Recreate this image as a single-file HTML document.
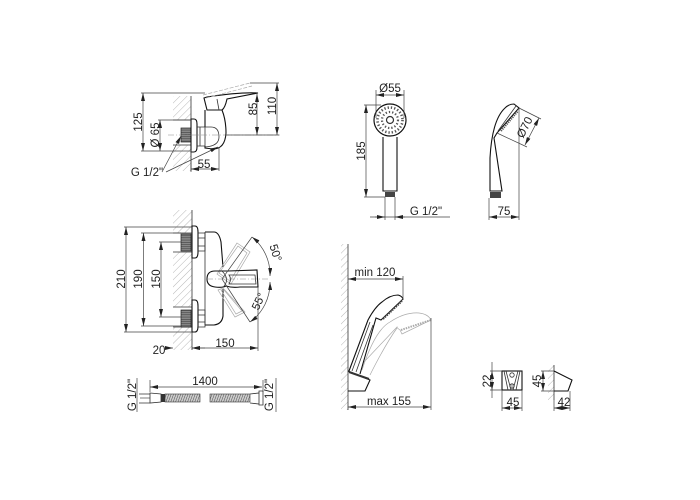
<!DOCTYPE html>
<html><head><meta charset="utf-8"><style>
html,body{margin:0;padding:0;background:#fff;width:700px;height:500px;overflow:hidden}
svg{display:block}
text{font-family:"Liberation Sans",sans-serif;font-size:11.5px;fill:#222;text-anchor:middle}
.d{stroke:#444;stroke-width:.7;fill:none}
.o{stroke:#333;stroke-width:.8;fill:none}
.t{stroke:#111;stroke-width:1.1;fill:none}
.g{stroke:#aaa;stroke-width:.7;fill:none}
.c{stroke:#888;stroke-width:.5;fill:none;stroke-dasharray:6 2 1 2}
</style></head><body>
<svg width="700" height="500" viewBox="0 0 700 500" xmlns="http://www.w3.org/2000/svg">
<defs>
<marker id="a" viewBox="0 0 8 4" refX="8" refY="2" markerWidth="8" markerHeight="4" orient="auto-start-reverse" markerUnits="userSpaceOnUse"><path d="M0 0L8 2L0 4z" fill="#222"/></marker>
<pattern id="hp" width="5" height="5" patternUnits="userSpaceOnUse" patternTransform="rotate(45)"><line x1="0" y1="0" x2="0" y2="5" stroke="#888" stroke-width=".6"/></pattern>
<pattern id="hose" width="2.400" height="8" patternUnits="userSpaceOnUse" patternTransform="skewX(-20)"><rect width="2.400" height="8" fill="#ccc"/><line x1="0" y1="0" x2="0" y2="8" stroke="#444" stroke-width="1"/></pattern>
<pattern id="thr" width="10" height="2.200" patternUnits="userSpaceOnUse"><rect width="10" height="2.200" fill="#888"/><line x1="0" y1="0" x2="10" y2="0" stroke="#333" stroke-width="1"/></pattern>
</defs>

<!-- TOP LEFT: mixer side view -->
<rect x="173" y="96" width="18" height="24" fill="url(#hp)"/>
<rect x="173" y="145" width="18" height="26" fill="url(#hp)"/>
<path class="o" d="M191 96V171"/>
<path class="o" d="M173 120H191M173 145H191"/>
<rect x="181" y="128" width="10" height="14" fill="url(#thr)" stroke="#222" stroke-width=".7"/>
<path class="t" d="M191 119H194Q197 119 197 124V147Q197 152 194 152H191Z" fill="#fff"/>
<path class="o" d="M197 127H205V146H197M200 127V146"/>
<path class="t" d="M205 110V127M205 146V148L213 149Q225 149 226 133Q226 120 222 110"/>
<path class="o" d="M205 127H211Q219 127 219 137Q219 146 205 147"/>
<path class="t" d="M204 98L207 110H222Q225 108 227 99L258 93Q240 92 207 97Z" fill="#fff"/>
<path class="o" d="M217 99L219 110"/>
<path class="g" stroke-dasharray="4 1.500" d="M203 95L250 83M206 98L252 86"/>
<path class="c" d="M168 135H280"/>

<!-- dims top left -->
<path class="d" d="M141 93H205M250 83H279M141 151H182M257 135H279M225 135H257M158 120H191M158 151H191M219 148V171M191 150V172"/>
<path class="d" marker-start="url(#a)" marker-end="url(#a)" d="M143 93V151"/>
<path class="d" marker-start="url(#a)" marker-end="url(#a)" d="M160 120V151"/>
<path class="d" marker-start="url(#a)" marker-end="url(#a)" d="M257 94V135"/>
<path class="d" marker-start="url(#a)" marker-end="url(#a)" d="M277 83V135"/>
<path class="d" marker-start="url(#a)" marker-end="url(#a)" d="M191 169H219"/>
<path class="d" marker-end="url(#a)" d="M162 172L181 136"/>
<path class="d" marker-end="url(#a)" d="M166 172L218 147"/>
<text x="204" y="168">55</text>
<text x="147" y="176">G 1/2"</text>
<text transform="translate(142,122) rotate(-90)">125</text>
<text transform="translate(159,135) rotate(-90)">Ø 65</text>
<text transform="translate(257,109) rotate(-90)">85</text>
<text transform="translate(276,106) rotate(-90)">110</text>

<!-- MIDDLE LEFT: mixer front -->
<rect x="173" y="210" width="19" height="23" fill="url(#hp)"/>
<rect x="173" y="252" width="19" height="55" fill="url(#hp)"/>
<rect x="173" y="327" width="19" height="23" fill="url(#hp)"/>
<path class="o" d="M192 210V350M173 233H192M173 252H192M173 307H192M173 327H192"/>
<rect x="181" y="234" width="10" height="17" fill="url(#thr)" stroke="#222" stroke-width=".7"/>
<rect x="181" y="310" width="10" height="17" fill="url(#thr)" stroke="#222" stroke-width=".7"/>
<path class="t" d="M192 226H195Q198 226 198 232V252Q198 258 195 258H192Z" fill="#fff"/>
<path class="t" d="M192 300H195Q198 300 198 306V326Q198 332 195 332H192Z" fill="#fff"/>
<path class="o" d="M198 233H205V251H198M198 238H205M198 246H205M198 310H205V327H198M198 315H205M198 322H205"/>
<path class="t" d="M205 232H214Q219 232 221 242L223 267M223 289L223 316Q222 324 214 325H205"/>
<path class="o" d="M205 232V325"/>
<g class="g">
<path d="M237 243L250 252L231 284L217 274Z"/><path d="M238 246L247 253L230 281L219 273Z"/>
<path d="M218 290L223 288L245 312L235 317Z"/><path d="M221 290L224 290L242 311L236 314Z"/>
</g>
<path class="t" d="M207 279Q207 271 215 271H228L257 270L258 287H240Q232 288 226 286Q222 288 215 287Q207 286 207 279Z"/>
<path class="o" d="M222 271Q230 279 224 286M229 275H255L256 284H229Q232 279 229 275Z"/>
<path class="c" d="M207 279H268"/>
<!-- angle -->
<path class="d" d="M222 279L252 237M222 279L250 322"/>
<path class="d" marker-start="url(#a)" marker-end="url(#a)" d="M252 237A48 48 0 0 1 270 276"/>
<path class="d" marker-start="url(#a)" marker-end="url(#a)" d="M270 282A48 48 0 0 1 250 322"/>
<text transform="translate(272,254) rotate(72)">50°</text>
<text transform="translate(262,303) rotate(-65)">55°</text>
<!-- dims -->
<path class="d" d="M124 227H192M124 332H192M141 233H181M141 326H181M159 242H181M159 317H181M258 287V351"/>
<path class="d" marker-start="url(#a)" marker-end="url(#a)" d="M126 227V332"/>
<path class="d" marker-start="url(#a)" marker-end="url(#a)" d="M143.500 233V326"/>
<path class="d" marker-start="url(#a)" marker-end="url(#a)" d="M161 242V317"/>
<path class="d" marker-start="url(#a)" marker-end="url(#a)" d="M192 348H258"/>
<path class="d" marker-end="url(#a)" d="M165 348H173"/>
<path class="d" marker-end="url(#a)" d="M205 348H192"/>
<text transform="translate(125,279) rotate(-90)">210</text>
<text transform="translate(142,279) rotate(-90)">190</text>
<text transform="translate(160,279) rotate(-90)">150</text>
<text x="225" y="347">150</text>
<text x="159" y="354">20</text>

<!-- HOSE -->
<path class="d" d="M137 378V412M276 378V412M150 380V392M263 380V392"/>
<path class="d" d="M140 398H150"/>
<path class="o" d="M139 394H150M139 403H150M150 393L161 394V402L150 403ZM250 394L259 393V404L250 403M259 391H263V405H259Z"/>
<rect x="161" y="394" width="4" height="8" fill="#333"/>
<rect x="165" y="394" width="35" height="8" fill="url(#hose)" stroke="#333" stroke-width=".6"/>
<rect x="210" y="394" width="40" height="8" fill="url(#hose)" stroke="#333" stroke-width=".6"/>
<path class="d" marker-start="url(#a)" marker-end="url(#a)" d="M150 387H262"/>
<text x="205" y="385">1400</text>
<text transform="translate(136,395) rotate(-90)">G 1/2"</text>
<text transform="translate(273,395) rotate(-90)">G 1/2"</text>

<!-- HAND SHOWER FRONT -->
<circle cx="390" cy="120" r="16" fill="#fff" stroke="#111" stroke-width="1.200"/>
<circle cx="390" cy="120" r="12.500" fill="none" stroke="#555" stroke-width="2.600" stroke-dasharray="1.300 2"/>
<circle cx="390" cy="120" r="8" fill="none" stroke="#555" stroke-width="2.200" stroke-dasharray="1.300 2"/>
<circle cx="390" cy="120" r="3.500" fill="#fff" stroke="#333" stroke-width="1.200"/>
<path class="t" d="M383 137V191H397V137"/>
<rect x="385" y="192" width="10" height="5" fill="#444"/>
<path class="d" d="M376 90V118M404 90V118M364 105H381M364 197H385M385 197V220M395 197V220M370 217H450"/>
<path class="d" marker-start="url(#a)" marker-end="url(#a)" d="M376 95H404"/>
<path class="d" marker-start="url(#a)" marker-end="url(#a)" d="M366 105V197"/>
<path class="d" marker-end="url(#a)" d="M375 217H385"/>
<path class="d" marker-end="url(#a)" d="M405 217H395"/>
<text x="390" y="92">Ø55</text>
<text transform="translate(365,151) rotate(-90)">185</text>
<text x="426" y="215">G 1/2"</text>

<!-- HAND SHOWER SIDE -->
<path class="t" d="M490 191V158Q492 120 505 108Q509 104 514 104L519 108L497 133L494 138L502 191Z" fill="#fff"/>
<path class="o" d="M498 131L516 106"/>
<path d="M501 131L518 111" stroke="#555" stroke-width="2" stroke-dasharray="1.200 1" fill="none"/>
<rect x="490" y="192" width="11" height="6" fill="#444"/>
<path class="d" d="M489 198V220M519 108V220M519 108L541 119M497 133L527 147"/>
<path class="d" marker-start="url(#a)" marker-end="url(#a)" d="M489 217H519"/>
<path class="d" marker-start="url(#a)" marker-end="url(#a)" d="M539 118L525 145"/>
<text x="504" y="215">75</text>
<text transform="translate(528,129) rotate(-63)">Ø70</text>

<!-- SHOWER ON WALL -->
<rect x="341" y="244" width="7" height="166" fill="url(#hp)"/>
<path class="o" d="M348 244V410"/>
<g class="g">
<path d="M362 370Q375 330 390 322Q405 312 419 313Q428 314 431 320L402 334L400 330Q397 328 397 327L364 362"/>
<path d="M370 375Q385 345 397 328"/>
</g>
<path d="M401 330L431 320" stroke="#aaa" stroke-width="2" stroke-dasharray="1.500 1" fill="none"/>
<path class="t" d="M349 371L368 320Q375 307 382 302Q390 295 398 295Q402 296 403 299L381 320L376 318L360 374" fill="#fff"/>
<path class="o" d="M352 371L370 322M356 372L373 325"/>
<path d="M383 319L402 301" stroke="#444" stroke-width="2" stroke-dasharray="1.500 1" fill="none"/>
<path class="t" d="M348 371L370 380L365 391H348" fill="#fff"/>
<path d="M349 372L369 379" stroke="#333" stroke-width="2" fill="none"/>
<path class="d" d="M403 276V300M431 318V410"/>
<path class="d" marker-start="url(#a)" marker-end="url(#a)" d="M348 279H403"/>
<path class="d" marker-start="url(#a)" marker-end="url(#a)" d="M348 407H431"/>
<text x="375" y="276">min 120</text>
<text x="389" y="405">max 155</text>

<!-- HOLDER FRONT -->
<rect x="502" y="371" width="20" height="19" fill="#fff" stroke="#111" stroke-width="1.100"/>
<path class="o" d="M504 371L508 390M520 371L516 390M506 371L511 390M518 371L513 390"/>
<circle cx="512" cy="375" r="2.200" fill="#fff" stroke="#333" stroke-width=".8"/>
<circle cx="512" cy="386" r="2.200" fill="#bbb" stroke="#333" stroke-width=".8"/>
<path class="d" d="M490 371H502M490 390H502M502 390V411M522 390V411"/>
<path class="d" d="M492 362V371M492 390V398"/>
<path class="d" marker-start="url(#a)" marker-end="url(#a)" d="M492 371V390"/>
<path class="d" marker-start="url(#a)" marker-end="url(#a)" d="M502 408H522"/>
<text transform="translate(491,381) rotate(-90)">22</text>
<text x="513" y="406">45</text>

<!-- HOLDER SIDE -->
<rect x="548" y="365" width="6" height="35" fill="url(#hp)"/>
<path class="o" d="M554 365V400"/>
<path class="t" d="M554 371L572 380L568 391H554"/>
<path class="d" d="M541 371H554M541 391H554M570 391V411M554 400V411"/>
<path class="d" marker-start="url(#a)" marker-end="url(#a)" d="M543 371V391"/>
<path class="d" marker-start="url(#a)" marker-end="url(#a)" d="M554 408H570"/>
<text transform="translate(541,381) rotate(-90)">45</text>
<text x="564" y="406">42</text>
</svg>
</body></html>
